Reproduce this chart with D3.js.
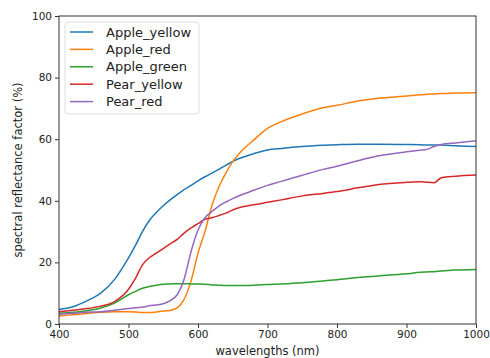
<!DOCTYPE html>
<html>
<head>
<meta charset="utf-8">
<script src="https://cdn.jsdelivr.net/npm/d3@7"></script>
<style>
body{margin:0;background:#fff;}
text{font-family:"DejaVu Sans",sans-serif;fill:#222;}
</style>
</head>
<body>
<div id="chart"></div>
<script>
//wavelengths (nm) and the five reflectance curves (%)
var wavelengths=[400,420,440,460,480,500,510,520,530,540,550,560,570,580,590,600,610,620,630,640,650,660,680,700,720,750,780,800,830,860,900,920,930,940,950,970,1000];
var appleYellow=[4.7,5.6,7.5,10,14.5,21.5,25.5,30,33.6,36.2,38.4,40.3,42,43.6,45,46.5,47.8,49,50.2,51.5,52.8,53.8,55.3,56.5,57,57.6,58,58.2,58.4,58.4,58.3,58.2,58.1,58.1,58.1,57.9,57.6];
var appleRed=[2.6,3.0,3.4,3.8,4.0,4.0,3.9,3.7,3.7,3.9,4.2,4.4,5.2,8,14,23,30,38.5,44.5,49,52.7,55.5,59.7,63.5,65.7,68.2,70.2,71,72.4,73.3,74,74.4,74.6,74.7,74.8,75,75.1];
var appleGreen=[3.5,3.8,4.3,5.2,6.8,9.5,10.6,11.6,12.2,12.6,12.9,13,13.1,13.1,13,13,12.9,12.7,12.6,12.5,12.5,12.5,12.6,12.8,13,13.4,14,14.4,15.1,15.6,16.3,16.8,16.9,17,17.2,17.5,17.7];
var pearYellow=[4.0,4.5,5.0,5.8,7.3,11.3,14.8,19.2,21.5,23,24.5,26,27.5,29.5,31.2,32.6,34,34.5,35.2,36,37,37.8,38.7,39.5,40.3,41.6,42.4,43,44.2,45.3,46,46.2,46,45.9,47.5,48,48.4];
var pearRed=[3.2,3.5,3.8,4.0,4.5,5.0,5.3,5.5,5.9,6.2,6.6,7.6,9.5,14.5,23.5,30.5,34.5,36.5,38.3,39.6,40.7,41.7,43.4,45,46.3,48.3,50.2,51.2,53,54.6,55.9,56.4,56.7,57.7,58.3,58.8,59.5];
var seriesNames=["Apple_yellow","Apple_red","Apple_green","Pear_yellow","Pear_red"];
var seriesValues=[appleYellow,appleRed,appleGreen,pearYellow,pearRed];
var colors=["#1f77b4","#ff7f0e","#2ca02c","#d62728","#9467bd"];
var xTicks=[400,500,600,700,800,900,1000];
var yTicks=[0,20,40,60,80,100];

var width=490,height=358;
var margin={left:59,right:14,top:16,bottom:34};

var svg=d3.select("#chart").append("svg")
	.attr("width",width)
	.attr("height",height);

var x=d3.scaleLinear().domain([400,1000]).range([margin.left,width-margin.right]);
var y=d3.scaleLinear().domain([0,100]).range([height-margin.bottom,margin.top]);

//axes
var xAxis=svg.append("g")
	.attr("transform","translate(0,"+(height-margin.bottom)+")")
	.call(d3.axisBottom(x).tickValues(xTicks).tickSize(4).tickPadding(3).tickFormat(d3.format("d")));
var yAxis=svg.append("g")
	.attr("transform","translate("+margin.left+",0)")
	.call(d3.axisLeft(y).tickValues(yTicks).tickSize(4).tickPadding(3).tickFormat(d3.format("d")));
[xAxis,yAxis].forEach(function(a){
	a.select(".domain").remove();
	a.selectAll("line").attr("stroke","#333");
	a.selectAll("text").style("font-size","10.5px").attr("fill","#222");
});

//lines
var line=d3.line()
	.x(function(d,i){return x(wavelengths[i]);})
	.y(function(d){return y(d);})
	.curve(d3.curveMonotoneX);
svg.selectAll("path.series")
	.data(seriesValues)
	.enter().append("path")
	.attr("class","series")
	.attr("fill","none")
	.attr("stroke",function(d,i){return colors[i];})
	.attr("stroke-width",1.5)
	.attr("d",line);

//frame around plot
svg.append("rect")
	.attr("x",x(400)).attr("y",y(100))
	.attr("width",x(1000)-x(400)).attr("height",y(0)-y(100))
	.attr("fill","none").attr("stroke","#333").attr("stroke-width",1);

//axis labels
svg.append("text")
	.attr("x",(x(400)+x(1000))/2).attr("y",355)
	.attr("text-anchor","middle")
	.style("font-size","11.5px")
	.text("wavelengths (nm)");
svg.append("text")
	.attr("transform","translate(22,"+((y(0)+y(100))/2)+") rotate(-90)")
	.attr("text-anchor","middle")
	.style("font-size","11.5px")
	.text("spectral reflectance factor (%)");

//legend
var legend=svg.append("g").attr("transform","translate(65,22)");
legend.append("rect")
	.attr("width",134).attr("height",92).attr("rx",3)
	.attr("fill","#fff").attr("fill-opacity",0.8)
	.attr("stroke","#ddd").attr("stroke-width",1);
var item=legend.selectAll("g.item")
	.data(seriesNames)
	.enter().append("g")
	.attr("class","item")
	.attr("transform",function(d,i){return "translate(0,"+(10+i*17.4)+")";});
item.append("line")
	.attr("x1",5).attr("x2",28)
	.attr("stroke",function(d,i){return colors[i];})
	.attr("stroke-width",1.5);
item.append("text")
	.attr("x",41).attr("dy","0.35em")
	.style("font-size","13px")
	.text(function(d){return d;});
</script>
</body>
</html>
